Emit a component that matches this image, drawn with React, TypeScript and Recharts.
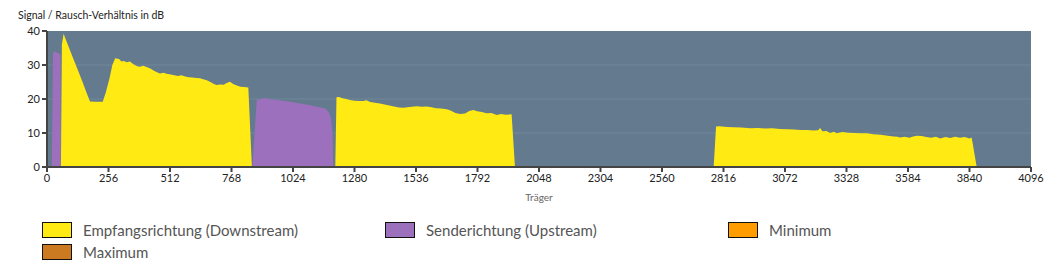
import { ComposedChart, Area, XAxis, YAxis, CartesianGrid } from "recharts";

// Träger (Downstream) und SNR in dB
const dsCarrier = [
  0, 58, 62, 69, 90, 110, 130, 150, 165, 179, 200, 232, 245, 260, 272, 284, 300, 310, 320, 332, 345, 360, 375, 387,
  400, 415, 430, 445, 460, 470, 485, 498, 515, 530, 545, 560, 575, 590, 605, 620, 637, 650, 665, 680, 695, 706, 720,
  735, 750, 762, 775, 790, 805, 820, 838, 853, 1200, 1205, 1215, 1230, 1245, 1261, 1280, 1300, 1317, 1330, 1345, 1365,
  1386, 1405, 1425, 1445, 1465, 1483, 1500, 1520, 1540, 1560, 1581, 1600, 1620, 1640, 1664, 1680, 1700, 1719, 1740,
  1758, 1775, 1790, 1810, 1830, 1850, 1872, 1890, 1910, 1934, 1948, 2775, 2785, 2800, 2830, 2860, 2890, 2927, 2960,
  2990, 3020, 3050, 3080, 3110, 3135, 3165, 3190, 3210, 3218, 3228, 3245, 3260, 3275, 3288, 3310, 3335, 3360, 3385,
  3413, 3440, 3470, 3500, 3525, 3540, 3551, 3570, 3590, 3605, 3621, 3640, 3660, 3680, 3700, 3718, 3740, 3760, 3780,
  3800, 3820, 3840, 3849, 3870, 4096,
];
const dsSnr = [
  0, 0, 36, 39.2, 35.4, 31.8, 28.2, 24.6, 21.8, 19.3, 19.2, 19.2, 22, 26, 30, 32, 31.8, 31, 31.2, 30.8, 31, 30.2, 29.6,
  29.5, 29.8, 29.4, 29, 28.3, 27.8, 27.5, 27.7, 27.4, 27.2, 27, 26.8, 27, 26.6, 26.4, 26.3, 26.2, 26.1, 25.8, 25.5, 25,
  24.4, 24.1, 24.3, 24.2, 24.8, 25.1, 24.4, 24, 23.6, 23.5, 23.4, 0, 0, 20.5, 20.6, 20.2, 20, 19.7, 19.5, 19.4, 19.4,
  19.6, 19.1, 18.9, 18.7, 18.4, 18.1, 17.8, 17.5, 17.4, 17.6, 17.7, 17.9, 17.7, 17.8, 17.6, 17.3, 17.2, 17, 16.6, 15.9,
  15.6, 15.7, 16.5, 16.8, 16.4, 16.2, 15.8, 15.9, 15.3, 15.6, 15.4, 15.5, 0, 0, 11.9, 12, 11.8, 11.7, 11.6, 11.4, 11.5,
  11.3, 11.4, 11.2, 11.1, 11, 10.9, 10.9, 10.7, 10.8, 11.5, 10.5, 10.6, 10, 10.4, 9.9, 10.3, 10.1, 10, 9.9, 9.9, 9.6,
  9.5, 9.2, 9, 8.9, 8.7, 8.9, 8.6, 9, 9.2, 9.1, 8.8, 8.6, 8.9, 8.4, 8.8, 8.5, 8.9, 8.6, 8.8, 8.4, 8.7, 0, 0,
];

// Upstream
const usCarrier = [
  0, 20, 25, 32, 40, 50, 56, 57, 855, 873, 890, 907, 930, 950, 970, 990, 1012, 1035, 1060, 1085, 1105, 1123, 1145,
  1160, 1172, 1182, 1188, 1192, 4096,
];
const usSnr = [
  0, 0, 33.5, 34, 33.7, 33.4, 33, 0, 0, 19.6, 20, 20.3, 19.9, 19.8, 19.6, 19.4, 19.2, 18.9, 18.6, 18.3, 18, 17.7, 17.4,
  17.1, 16.2, 14.5, 10, 0, 0,
];

const xTicks = [0, 256, 512, 768, 1024, 1280, 1536, 1792, 2048, 2304, 2560, 2816, 3072, 3328, 3584, 3840, 4096];
const yTicks = [0, 10, 20, 30, 40];

const legendItems = [
  { label: "Empfangsrichtung (Downstream)", color: "#ffea13" },
  { label: "Senderichtung (Upstream)", color: "#9c70bc" },
  { label: "Minimum", color: "#ff9c00" },
  { label: "Maximum", color: "#cc7a22" },
];

const dsData = dsCarrier.map((c, i) => ({ c, v: dsSnr[i] }));
const usData = usCarrier.map((c, i) => ({ c, v: usSnr[i] }));

const font = "Lato, 'Open Sans', sans-serif";

export default function App() {
  return (
    <div style={{ position: "absolute", left: 0, top: 0, width: 1058, height: 273, fontFamily: font, background: "#fff" }}>
      <div style={{ position: "absolute", left: 18, top: 9, fontSize: 10.5, color: "#222" }}>
        Signal / Rausch-Verhältnis in dB
      </div>
      <ComposedChart width={1058} height={205} margin={{ top: 31, right: 27, left: 0, bottom: 0 }}>
        <CartesianGrid fill="#647a8e" stroke="#71879a" vertical={false} horizontalValues={[10, 20, 30]} />
        <XAxis
          dataKey="c"
          type="number"
          domain={[0, 4096]}
          ticks={xTicks}
          interval={0}
          height={38}
          stroke="#444"
          strokeWidth={2}
          tickSize={5}
          tick={{ fontSize: 11, fill: "#222", fontFamily: font }}
          label={{ value: "Träger", position: "insideBottom", offset: 4, fontSize: 10, fill: "#666", fontFamily: font }}
          allowDuplicatedCategory={false}
        />
        <XAxis xAxisId="top" orientation="top" type="number" domain={[0, 4096]} tick={false} tickLine={false} height={0} stroke="#444" strokeWidth={2} />
        <YAxis
          type="number"
          domain={[0, 40]}
          ticks={yTicks}
          interval={0}
          width={47}
          stroke="#444"
          strokeWidth={2}
          tickSize={5}
          tick={{ fontSize: 11, fill: "#222", fontFamily: font }}
        />
        <YAxis yAxisId="right" orientation="right" domain={[0, 40]} tick={false} tickLine={false} width={0} stroke="#444" strokeWidth={2} />
        <Area
          data={usData}
          dataKey="v"
          type="linear"
          fill="#9c70bc"
          fillOpacity={1}
          stroke="none"
          isAnimationActive={false}
        />
        <Area
          data={dsData}
          dataKey="v"
          type="linear"
          fill="#ffea13"
          fillOpacity={1}
          stroke="none"
          isAnimationActive={false}
        />
      </ComposedChart>
      <div
        style={{
          position: "absolute",
          left: 42,
          top: 222,
          display: "grid",
          gridTemplateColumns: "343px 343px 200px",
          rowGap: 6,
        }}
      >
        {legendItems.map((it) => (
          <div key={it.label} style={{ display: "flex", alignItems: "center", height: 16 }}>
            <span
              style={{
                display: "inline-block",
                width: 28,
                height: 14,
                flexShrink: 0,
                background: it.color,
                border: "1px solid #111",
                marginRight: 11,
              }}
            />
            <span style={{ fontSize: 15, color: "#555", whiteSpace: "nowrap" }}>{it.label}</span>
          </div>
        ))}
      </div>
    </div>
  );
}
